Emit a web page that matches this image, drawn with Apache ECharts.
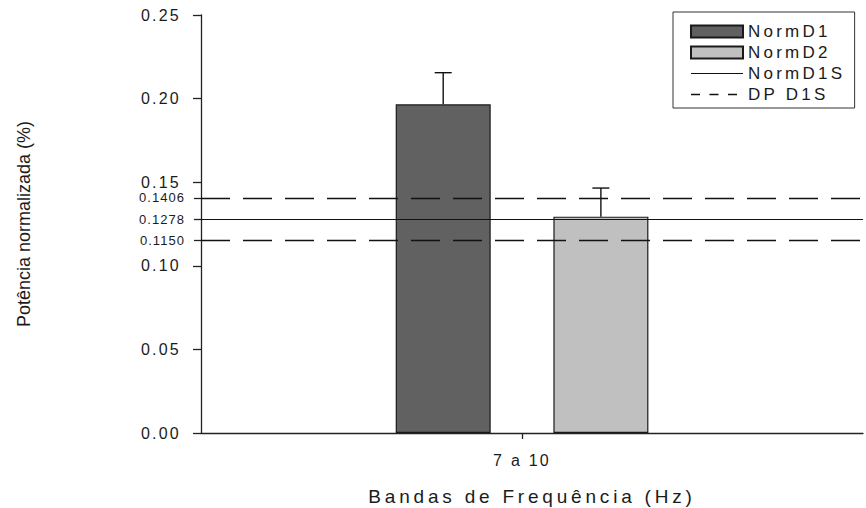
<!DOCTYPE html>
<html>
<head>
<meta charset="utf-8">
<script src="https://cdn.jsdelivr.net/npm/echarts@6/dist/echarts.min.js"></script>
<style>
html, body { margin: 0; padding: 0; background: #fff; }
#chart { width: 866px; height: 508px; }
#chart text[style*="19px"] { letter-spacing: 0.2em; }
#chart text[style*="17px"] { letter-spacing: 0.19em; }
#chart text[style*="16px"] { letter-spacing: 0.14em; }
#chart text[style*="13px"] { letter-spacing: 0.08em; }
</style>
</head>
<body>
<div id="chart"></div>
<script>
// ---- data ----
const categories = ['7 a 10'];
const normD1 = [0.1966];
const normD1Err = [0.0189];
const normD2 = [0.1294];
const normD2Err = [0.0171];
const normD1S = [0.1278];
const dpD1S = [0.1406, 0.1150];
const extraTickValues = [0.1150, 0.1278, 0.1406];
const yMin = 0, yMax = 0.25, yStep = 0.05;

// ---- style ----
const FONT = "'Liberation Sans', Arial, sans-serif";
const TXT = '#1b1b1b';
const AX = '#222';
const BAR_W = 95;
const BAR_GAP = 0.66;
const catIdx = categories.map((c, i) => i);

const chart = echarts.init(document.getElementById('chart'), null, { renderer: 'svg' });

function errItem(shiftSign) {
  return function (params, api) {
    const c = api.value(0), v = api.value(1), e = api.value(2);
    const base = api.coord([c, v]);
    const top = api.coord([c, v + e]);
    const x = base[0] + shiftSign * (BAR_W + BAR_W * BAR_GAP) / 2;
    const st = { stroke: '#111', lineWidth: 1.4 };
    return {
      type: 'group',
      children: [
        { type: 'line', shape: { x1: x, y1: base[1], x2: x, y2: top[1] }, style: st },
        { type: 'line', shape: { x1: x - 8.5, y1: top[1], x2: x + 8.5, y2: top[1] }, style: st }
      ]
    };
  };
}

const hiddenSymbol = { color: 'rgba(0,0,0,0)', borderColor: 'rgba(0,0,0,0)', borderWidth: 0 };

chart.setOption({
  animation: false,
  grid: { left: 201, right: 3, top: 15, bottom: 75, containLabel: false, outerBoundsMode: 'none' },
  legend: {
    orient: 'vertical',
    left: 673, top: 12,
    itemWidth: 52, itemHeight: 12, itemGap: 4, itemTextGap: 16,
    padding: [11, 32, 5, 17],
    borderColor: '#333', borderWidth: 1,
    selectedMode: false,
    textStyle: { fontSize: 17, color: TXT, fontFamily: FONT },
    data: [
      { name: 'NormD1', icon: 'rect' },
      { name: 'NormD2', icon: 'rect' },
      { name: 'NormD1S', itemStyle: hiddenSymbol, lineStyle: { type: 'solid', width: 1.2, color: '#111' } },
      { name: 'DP D1S', itemStyle: hiddenSymbol, lineStyle: { type: [9, 9.5], width: 1.3, color: '#111' } }
    ]
  },
  xAxis: {
    type: 'value',
    min: -0.5, max: 0.531,
    axisLine: { show: true, onZero: false, lineStyle: { color: AX, width: 1.3 } },
    axisTick: { show: true, length: 6, customValues: catIdx, lineStyle: { color: AX, width: 1.3 } },
    axisLabel: { fontSize: 16, color: TXT, fontFamily: FONT, margin: 19, customValues: catIdx,
                 formatter: v => categories[Math.round(v)] },
    splitLine: { show: false },
    name: 'Bandas de Frequência (Hz)',
    nameLocation: 'middle',
    nameGap: 54,
    nameTextStyle: { fontSize: 19, color: TXT, fontFamily: FONT }
  },
  yAxis: [
    {
      type: 'value',
      min: yMin, max: yMax, interval: yStep,
      axisLine: { show: true, onZero: false, lineStyle: { color: AX, width: 1.3 } },
      axisTick: { show: true, inside: false, length: 8, lineStyle: { color: AX, width: 1.3 } },
      axisLabel: { fontSize: 16, color: TXT, fontFamily: FONT, margin: 20, formatter: v => v.toFixed(2) },
      splitLine: { show: false },
      name: 'Potência normalizada (%)',
      nameLocation: 'middle',
      nameRotate: 90,
      nameGap: 168,
      nameTextStyle: { fontSize: 18, color: TXT, fontFamily: FONT }
    },
    {
      type: 'value',
      position: 'left',
      min: yMin, max: yMax,
      axisLine: { show: false, onZero: false },
      axisTick: { show: true, inside: false, length: 7, customValues: extraTickValues, lineStyle: { color: AX, width: 1.3 } },
      axisLabel: { fontSize: 13, color: TXT, fontFamily: FONT, margin: 16, customValues: extraTickValues, formatter: v => v.toFixed(4) },
      splitLine: { show: false }
    }
  ],
  series: [
    {
      type: 'bar', name: 'NormD1', data: catIdx.map(i => [i, normD1[i]]),
      barWidth: BAR_W, barGap: (BAR_GAP * 100) + '%',
      itemStyle: { color: '#616161', borderColor: '#1a1a1a', borderWidth: 1.2 },
      z: 2
    },
    {
      type: 'bar', name: 'NormD2', data: catIdx.map(i => [i, normD2[i]]),
      barWidth: BAR_W, barGap: (BAR_GAP * 100) + '%',
      itemStyle: { color: '#c0c0c0', borderColor: '#1a1a1a', borderWidth: 1.2 },
      z: 2
    },
    {
      type: 'line', name: 'NormD1S', data: [], symbol: 'none',
      itemStyle: { color: '#111' },
      lineStyle: { color: '#111', width: 1.1, type: 'solid' },
      markLine: {
        silent: true, precision: 6, symbol: ['none', 'none'], label: { show: false },
        lineStyle: { color: '#111', width: 1.1, type: 'solid' },
        data: normD1S.map(v => ({ yAxis: v }))
      },
      z: 5
    },
    {
      type: 'line', name: 'DP D1S', data: [], symbol: 'none',
      itemStyle: { color: '#111' },
      lineStyle: { color: '#111', width: 1.3, type: [29, 13] },
      markLine: {
        silent: true, precision: 6, symbol: ['none', 'none'], label: { show: false },
        lineStyle: { color: '#111', width: 1.3, type: [29, 13] },
        data: dpD1S.map(v => ({ yAxis: v }))
      },
      z: 5
    },
    {
      type: 'custom', name: 'errD1',
      renderItem: errItem(-1),
      data: catIdx.map(i => [i, normD1[i], normD1Err[i]]),
      z: 4
    },
    {
      type: 'custom', name: 'errD2',
      renderItem: errItem(1),
      data: catIdx.map(i => [i, normD2[i], normD2Err[i]]),
      z: 4
    }
  ]
});
</script>
</body>
</html>
